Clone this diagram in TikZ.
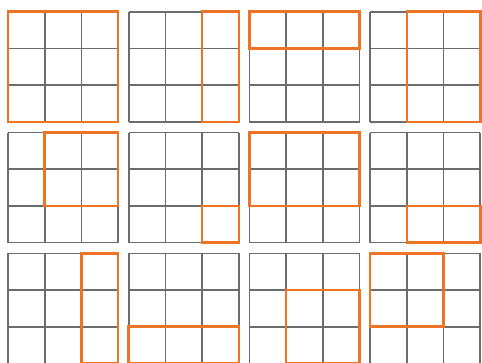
\documentclass[tikz,border=0pt]{standalone}
\begin{document}
\begin{tikzpicture}[x=1pt,y=-1pt,
  gridline/.style={draw=gridgray,line width=1.6pt},
  hilite/.style={draw=hiorange,line width=2.6pt,line join=miter}]
\definecolor{gridgray}{HTML}{6C6C6C}
\definecolor{hiorange}{HTML}{EC7424}
\useasboundingbox[fill=white] (0,0) rectangle (482,363);
\def\cs{36.7}
\foreach \gx/\gy/\ca/\cb/\ra/\rb in {
  0/0/0/3/0/3, 1/0/2/3/0/3, 2/0/0/3/0/1, 3/0/1/3/0/3,
  0/1/1/3/0/2, 1/1/2/3/2/3, 2/1/0/3/0/2, 3/1/1/3/2/3,
  0/2/2/3/0/3, 1/2/0/3/2/3, 2/2/1/3/1/3, 3/2/0/2/0/2}{
  \pgfmathsetmacro\ox{8+120.7*\gx}
  \pgfmathsetmacro\oy{11.8+120.8*\gy}
  \begin{scope}[shift={(\ox,\oy)}]
    \foreach \i in {0,1,2,3}{
      \draw[gridline] (\i*\cs,0) -- (\i*\cs,3*\cs);
      \draw[gridline] (0,\i*\cs) -- (3*\cs,\i*\cs);
    }
    \draw[hilite] (\ca*\cs,\ra*\cs) rectangle (\cb*\cs,\rb*\cs);
  \end{scope}
}
\end{tikzpicture}
\end{document}
